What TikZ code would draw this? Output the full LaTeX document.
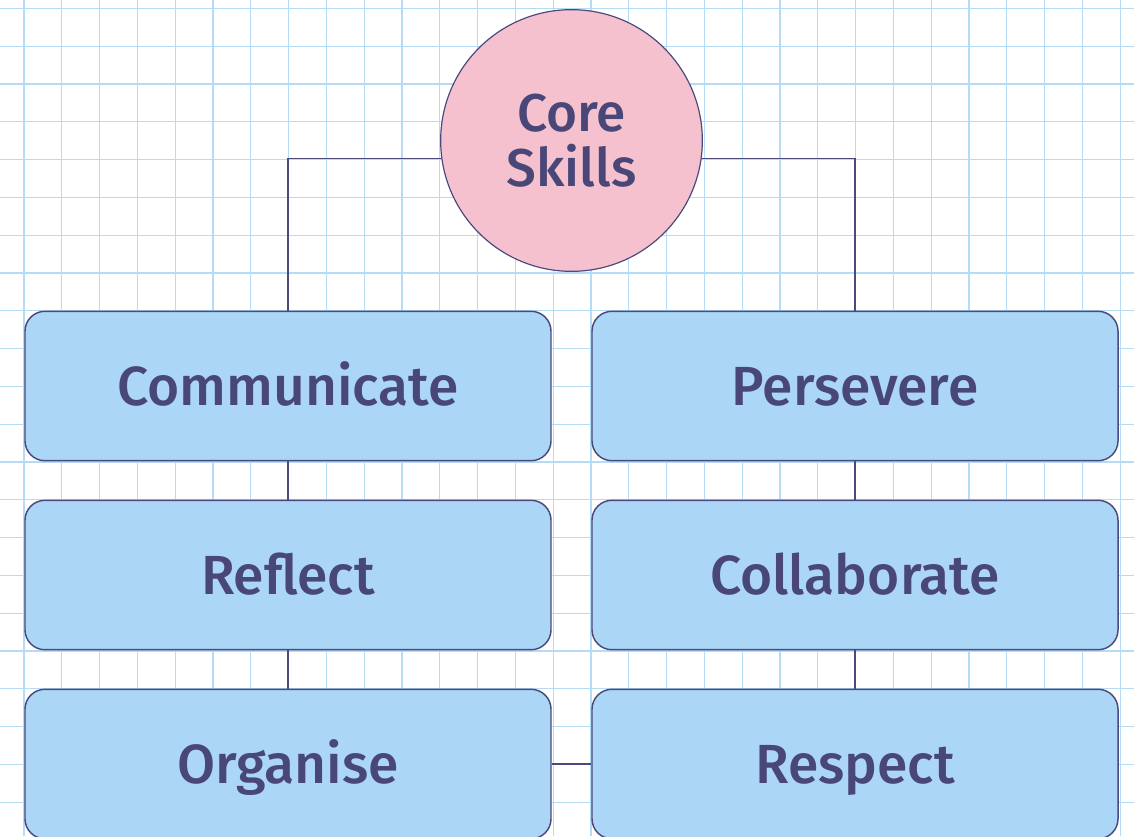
\documentclass[tikz,border=0pt]{standalone}
\usepackage{fontspec}
\setmainfont{Fira Sans}[UprightFont={* Medium}]
\definecolor{gridc}{HTML}{B5DCF4}
\definecolor{boxfill}{HTML}{ABD6F5}
\definecolor{ink}{HTML}{4A4A7E}
\definecolor{txt}{HTML}{484778}
\definecolor{pinkc}{HTML}{F6C1CF}
\begin{document}
\begin{tikzpicture}[x=0.026458cm,y=-0.026458cm,
  skill/.style={draw=ink,line width=1.1pt,fill=boxfill,rounded corners=15pt,
    minimum width=396pt,minimum height=112.5pt,inner sep=0pt,
    text height=28.6pt,text depth=0pt,
    text=txt,font=\fontsize{41.5}{50}\selectfont},
  hub/.style={circle,draw=ink,line width=0.9pt,fill=pinkc,minimum size=197pt,inner sep=0pt,
    text=txt,align=center,font=\fontsize{40}{41}\selectfont},
  link/.style={draw=ink,line width=0.9pt}]
\useasboundingbox (0,0) rectangle (1134,836);
\clip (0,0) rectangle (1134,836);
\fill[white] (0,0) rectangle (1134,836);
\foreach \i in {0,...,29} {
  \draw[gridc,line width=0.9pt] ({24+37.8*\i},0) -- ({24+37.8*\i},836);
}
\foreach \j in {0,...,22} {
  \draw[gridc,line width=0.9pt] (0,{8.3+37.8*\j}) -- (1134,{8.3+37.8*\j});
}
\node[hub] (core) at (571.5,140.5) {Core\\Skills};
\node[skill] (comm) at (288,386) {Communicate};
\node[skill] (refl) at (288,575) {Reflect};
\node[skill] (org) at (288,764) {Organise};
\node[skill] (pers) at (855,386) {Persevere};
\node[skill] (coll) at (855,575) {Collaborate};
\node[skill] (resp) at (855,764) {Respect};
\draw[link] (core.188) -| (comm.north);
\draw[link] (core.-8) -| (pers.north);
\draw[link] (comm.south) -- (refl.north);
\draw[link] (refl.south) -- (org.north);
\draw[link] (pers.south) -- (coll.north);
\draw[link] (coll.south) -- (resp.north);
\draw[link] (org.east) -- (resp.west);
\end{tikzpicture}
\end{document}
